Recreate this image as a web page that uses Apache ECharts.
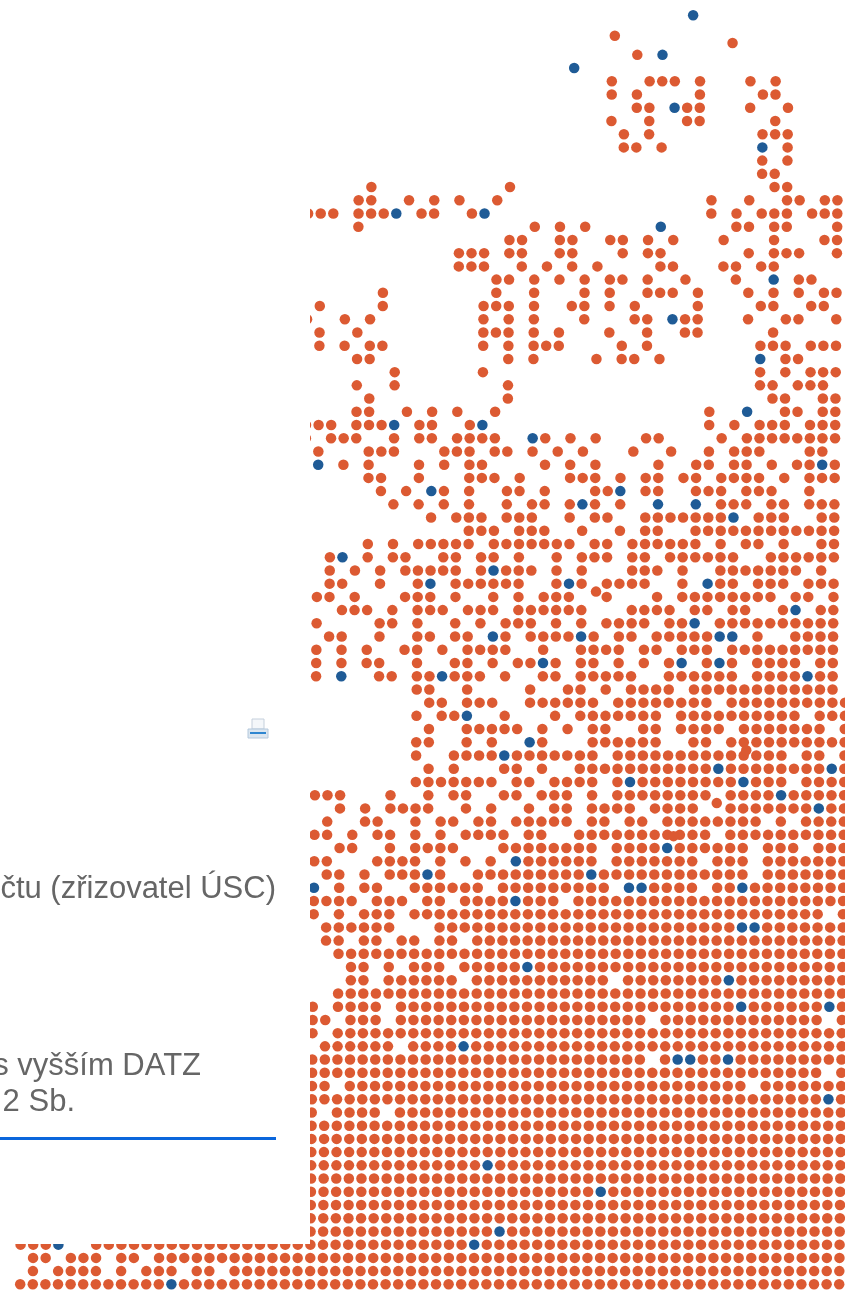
<!DOCTYPE html>
<html><head><meta charset="utf-8">
<style>html,body{margin:0;padding:0;background:#fff}#c{width:845px;height:1291px}</style>
<script src="https://cdn.jsdelivr.net/npm/echarts@6/dist/echarts.min.js"></script>
</head><body><div id="c"></div>
<script>
// Orange dots per grid row (top to bottom): column numbers, "a:b" = run of columns
const orangeRows = [
"","","","25","",
"23,26:28,30,34,36","23,25,30,35,36","25,26,29,30,34,37","23,26,29,30,36","24,26,35:37",
"24,25,27,37","35,37","35,36","4,15,36,37","3,4,7,9,11,14,31,34,37,38,40,41",
"-1,0,1,3:5,8,9,12,31,33,35:37,39:42","3,17,19,21,33,34,36,37,41","15,16,19,20,23,24,26,28,32,36,40,41","11:13,15,16,19,20,24,26,27,34,36:38,41","11:13,16,18,20,22,27,28,32,33,35,36",
"14,15,17,19,21,23,24,26,29,33,38,39","5,14,17,21,23,26:28,30,34,36,38,40,41","0,5,13:15,17,20,21,23,25,30,35,36,39,40","-1,2,4,13,15,17,21,25,26,29,30,34,37,38,41,42","0,3,13:15,17,19,23,26,29,30,36,42",
"0,2,4,5,13,15,17:19,24,26,35:37,39:41","3,4,15,17,22,24,25,27,37,38","6,13,35,37,39:42","3,6,15,35,36,38:40","4,15,36,37,40:42",
"3,4,7,9,11,14,31,37,38,40,41","-1,0,1,3:5,8,9,12,31,33,35:37,39:42","-1,1:3,6,8,9,11:14,18,20,22,26,27,32,34:41","0,4:6,10:12,14,15,17,19,21,25,28,31,33:35,39,40,42","2,4,8,10,12,13,18,20,22,27,30,31,33,34,36,38,39,41",
"4,5,8,12:14,16,20:22,24,26,27,29,30,32:35,37,39:41","5,7,10,12,15,16,18,22,23,26,27,30:32,34:36,39,42","6,8,10,12,15,17,18,20,22,24,32:34,36,37,39:41","9,11:13,15:17,20,22,23,26:32,35:37,40,41","12:14,16:18,21,24,26,27,30:41",
"4,6,8:12,14:20,22,23,25:30,32,34,35,37,40,41","1,4,6,7,10,11,13,14,16,19,21:23,25,26,28:33,36:41","1,3,5,7:11,13,15:17,19,21,25:27,29,32:38,40,42","1,2,5,8,11:16,19,21,23:26,29,32,33,35:37,39:41","0,1,3,7:9,11,14,16,18:20,23,27,29:36,38,39,41,42",
"2:4,6,8:10,12:14,16:21,25:28,30,31,33,34,37,40:42","0,5,6,8,11,13,15:17,19,21,23:26,28,29,32:42","1,2,5,8,9,11,12,15,17:20,22,24,25,27:31,35,38:42","0,2,4,7,8,10,12:15,18,21:24,26,27,29:31,33:42","0,2,4,5,8,11,12,14,16,17,19,21,22,24,26,28,31,33,35:38,40:42",
"0,5,6,8,9,11:13,15,18,19,21:25,28:33,35:38,40:42","8,9,12,17,20,21,23,25:28,30:42","9,10,12:14,17:22,24:31,33:42","8,10,11,15,19,21:27,29:38,40:42","9,12:16,18,20,22,23,26,27,29:32,34:40,42",
"8,9,12,14,18,22:27,30,31,33:42","8,11:14,16:22,24:37,39,40,42","9,11,15,16,18,21:31,33:40,42","8:14,16,17,19:22,24,26:33,35:37,39:42","0:2,6,9,11,12,15,16,18:20,22,24:31,33:36,38:42",
"2,4,6:9,12,14,17,19,20,22:25,27:30,33:39,41,42","1,4,5,8,10,11,13,14,16:20,22,23,25,26,28:35,37,39:42","0,1,3,5,6,8,10,12:15,17,18,21:31,33:42","2,3,6,8:11,15:22,24:27,29:34,36:38,40:42","0,1,5:8,10,12,14,17:22,24:30,32:34,36:42",
"1,2,4,6:8,10,13:21,23:34,36:42","2,4,5,8:13,15:23,27:30,32,33,35:42","0:3,5:7,9,10,12:15,17:19,21:42","0,2,4:6,8:40,42","1:6,10:33,36:42",
"1,2,4,5,7,8,10,11,13:42","2:42","3,4,6,8:10,12:16,18:42","3,4,6:11,13:23,25:32,34:42","2:42",
"0,2:5,7:33,35:40,42","0,1,3:5,7:26,28:40,42","0,2:42","1:6,8:11,13:42","0:26,28,31,32,34:42",
"0:40,42","0,1,3:34,36:42","0:40,42","0,2:5,7:42","0:42",
"0:42","0:42","0:13,15:42","0:42","0:22,24:42",
"0:42","0:42","0:14,16:42","-23:-21,-17:12,14:42","-22,-21,-19:-17,-15,-14,-12:42",
"-22,-20:-17,-15,-13:-11,-9,-8,-6:42","-23:-12,-10:42"
];
// Blue dots as [column, row]
const blueDots = [[29.4,0],[27,3],[20,4],[28,7],[35,10],[6,15],[13,15],[27,16],[36,20],[28,23],[35,26],[34,30],[6,31],[13,31],[17,32],[0,34],[40,34],[9,36],[24,36],[21,37],[27,37],[30,37],[33,38],[2,41],[14,42],[9,43],[20,43],[31,43],[42,43],[38,45],[30,46],[14,47],[21,47],[32,47],[33,47],[18,49],[29,49],[32,49],[2,50],[10,50],[39,50],[12,53],[17,55],[15,56],[32,57],[41,57],[25,58],[34,58],[37,59],[40,60],[28,63],[16,64],[9,65],[22,65],[0,66],[25,66],[26,66],[34,66],[16,67],[34,69],[35,69],[17,72],[33,73],[34,75],[41,75],[12,78],[29,79],[30,79],[33,79],[41,82],[14,87],[23,89],[15,92],[-20,93],[13,93],[-11,96]];
// Orange dots knocked off the grid, as [column, row]
const strayOrange = [[23.2,1.56],[32.55,2.1],[22.15,43.6],[34.2,55.6],[31.9,59.6],[28.5,62.1]];
// Captions visible beside the dot field
const captionLines = ["čtu (zřizovatel ÚSC)","s vyšším DATZ","2 Sb."];

const LAST_ROW = 96, LEAN = 0.0105;
const pt = (c,r) => [c + LEAN*(LAST_ROW-r), r];
const orange = [];
orangeRows.forEach((s,r)=>{ if(!s) return; s.split(',').forEach(tok=>{
  const m = tok.match(/^(-?\d+):(-?\d+)$/);
  if(m){ for(let c=+m[1];c<=+m[2];c++) orange.push(pt(c,r)); }
  else orange.push(pt(+tok,r));
});});
strayOrange.forEach(d=>orange.push(pt(d[0],d[1])));
const blue = blueDots.map(d=>pt(d[0],d[1]));

const CW=12.6, RH=13.22, X0=310, Y0=15.2;
const chart = echarts.init(document.getElementById('c'),null,{renderer:'canvas'});
const txt=(s,x,y)=>({type:'text',z:20,style:{text:s,x:x,y:y,align:'right',verticalAlign:'middle',font:'31px "Liberation Sans", Arial, sans-serif',fill:'#666666'}});
chart.setOption({
  animation:false,
  backgroundColor:'#ffffff',
  grid:{left:0,right:0,top:0,bottom:0},
  xAxis:{type:'value',show:false,min:-X0/CW,max:(845-X0)/CW},
  yAxis:{type:'value',show:false,inverse:true,min:-Y0/RH,max:(1291-Y0)/RH},
  tooltip:{show:false},
  series:[
    {type:'scatter',name:'orange',data:orange,symbolSize:10.5,silent:true,itemStyle:{color:'#DC5A32',opacity:1}},
    {type:'scatter',name:'blue',data:blue,symbolSize:10.5,silent:true,z:3,itemStyle:{color:'#1F5B96',opacity:1}}
  ],
  graphic:[
    {type:'rect',z:10,shape:{x:0,y:0,width:310,height:1244},style:{fill:'#fff'}},
    {type:'rect',z:10,shape:{x:0,y:1244,width:14,height:47},style:{fill:'#fff'}},
    txt(captionLines[0],276,889),
    txt(captionLines[1],201,1066),
    txt(captionLines[2],75,1102),
    {type:'rect',z:20,shape:{x:0,y:1137,width:276,height:3},style:{fill:'#0A66DC'}},
    {type:'rect',z:20,shape:{x:252,y:719,width:12,height:10},style:{fill:'#f4f7fa',stroke:'#c5d0dc',lineWidth:1}},
    {type:'rect',z:20,shape:{x:248,y:729,width:20,height:9},style:{fill:'#dbe6f0',stroke:'#b4c8dc',lineWidth:1}},
    {type:'rect',z:21,shape:{x:250,y:732,width:16,height:2},style:{fill:'#2E86D0'}}
  ]
});
</script></body></html>
